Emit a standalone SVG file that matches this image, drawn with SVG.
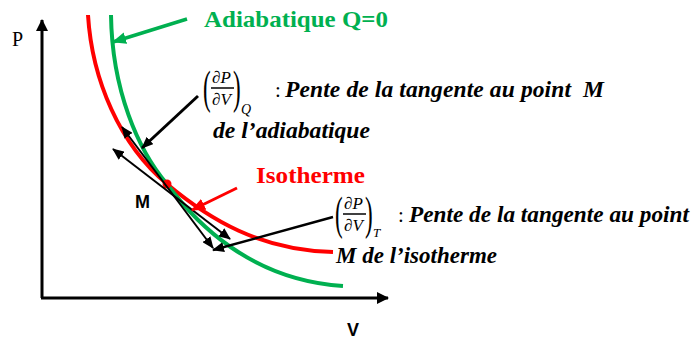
<svg xmlns="http://www.w3.org/2000/svg" width="694" height="340" viewBox="0 0 694 340">
<style>
.ax{stroke:#000;stroke-width:3;fill:none}
.curve{fill:none;stroke-width:4;stroke-linecap:butt}
.tan{stroke:#000;stroke-width:2;fill:none}
.lbl{font-family:"Liberation Serif","DejaVu Serif",serif;font-weight:bold;font-style:italic;font-size:23.5px;fill:#000}
.frac{font-family:"Liberation Serif",serif;font-style:italic;font-size:17px;fill:#000}
.par{font-family:"Liberation Serif",serif;font-size:46px;fill:#000}
.sans{font-family:"Liberation Sans",Arial,sans-serif;font-weight:bold;fill:#000}
</style>
<defs>
<marker id="ahK" markerUnits="userSpaceOnUse" markerWidth="12" markerHeight="10" refX="11" refY="5" orient="auto-start-reverse"><path d="M0,0 L12,5 L0,10 z" fill="#000"/></marker>
<marker id="ahAx" markerUnits="userSpaceOnUse" markerWidth="12" markerHeight="12" refX="11" refY="6" orient="auto"><path d="M0,0 L12,6 L0,12 z" fill="#000"/></marker>
<marker id="ahG" markerUnits="userSpaceOnUse" markerWidth="14" markerHeight="12" refX="13" refY="6" orient="auto"><path d="M0,0 L14,6 L0,12 z" fill="#00B050"/></marker>
<marker id="ahR" markerUnits="userSpaceOnUse" markerWidth="14" markerHeight="12" refX="13" refY="6" orient="auto"><path d="M0,0 L14,6 L0,12 z" fill="#FF0000"/></marker>
</defs>

<g id="axes">
<line class="ax" x1="42" y1="298" x2="42" y2="20" marker-end="url(#ahAx)"/>
<line class="ax" x1="41" y1="298" x2="388" y2="298" marker-end="url(#ahAx)"/>
<text x="12" y="46" style="font-family:'Liberation Serif',serif;font-size:20px">P</text>
<text x="347" y="336" class="sans" style="font-size:18px">V</text>
</g>

<g id="isotherme-curve">
<path class="curve" stroke="#FF0000" d="M88,15 C92,80 120,145 167,184 C210,220 260,250 333,252"/>
</g>
<g id="adiabatique-curve">
<path class="curve" stroke="#00B050" d="M111,15 C112,90 138,150 167,184 C195,222 250,280 343,286"/>
</g>

<g id="point-M">
<circle cx="167" cy="184" r="4.5" fill="#FF0000"/>
<text x="135" y="208" class="sans" style="font-size:18px">M</text>
</g>

<g id="connectors">
<line class="tan" x1="122" y1="127" x2="213" y2="248" marker-start="url(#ahK)" marker-end="url(#ahK)"/>
<line class="tan" x1="113" y1="149" x2="230" y2="239" marker-start="url(#ahK)" marker-end="url(#ahK)"/>
<line stroke="#00B050" stroke-width="3.5" x1="187" y1="19" x2="113" y2="42" marker-end="url(#ahG)"/>
<line stroke="#000" stroke-width="3" x1="198" y1="96" x2="142" y2="148" marker-end="url(#ahK)"/>
<line stroke="#FF0000" stroke-width="3" x1="237" y1="188" x2="192" y2="210" marker-end="url(#ahR)"/>
<line stroke="#000" stroke-width="2.5" x1="333" y1="217" x2="213" y2="250" marker-end="url(#ahK)"/>
</g>

<g id="label-adiabatique">
<text x="204" y="27" textLength="184" lengthAdjust="spacingAndGlyphs" style="font-family:'Liberation Serif',serif;font-weight:bold;font-size:23px;fill:#00B050">Adiabatique Q=0</text>
</g>

<g id="label-isotherme">
<text x="256" y="183" textLength="109" lengthAdjust="spacingAndGlyphs" style="font-family:'Liberation Serif',serif;font-weight:bold;font-size:23px;fill:#FF0000">Isotherme</text>
</g>

<g id="note-adiabatique">
<text class="par" transform="translate(203,103) scale(0.5,1)">(</text>
<text class="frac" x="212" y="83">∂P</text>
<line x1="211" y1="88" x2="234" y2="88" stroke="#000" stroke-width="1.5"/>
<text class="frac" x="212" y="105">∂V</text>
<text class="par" transform="translate(233,103) scale(0.5,1)">)</text>
<text class="frac" x="241" y="114" style="font-size:14px">Q</text>
<text x="275" y="97" style="font-family:'Liberation Serif',serif;font-size:21px">:</text>
<text class="lbl" x="285" y="97" textLength="319" lengthAdjust="spacing" xml:space="preserve">Pente de la tangente au point  M</text>
<text class="lbl" x="213" y="138" textLength="157" lengthAdjust="spacingAndGlyphs">de l’adiabatique</text>
</g>

<g id="note-isotherme">
<text class="par" transform="translate(335,229) scale(0.5,1)">(</text>
<text class="frac" x="344" y="209">∂P</text>
<line x1="343" y1="214" x2="366" y2="214" stroke="#000" stroke-width="1.5"/>
<text class="frac" x="344" y="231">∂V</text>
<text class="par" transform="translate(365,229) scale(0.5,1)">)</text>
<text class="frac" x="373" y="237" style="font-size:13px">T</text>
<text x="398" y="222" style="font-family:'Liberation Serif',serif;font-size:21px">:</text>
<text class="lbl" x="409" y="222" textLength="280" lengthAdjust="spacingAndGlyphs">Pente de la tangente au point</text>
<text class="lbl" x="336" y="263" textLength="161" lengthAdjust="spacingAndGlyphs">M de l’isotherme</text>
</g>
</svg>
